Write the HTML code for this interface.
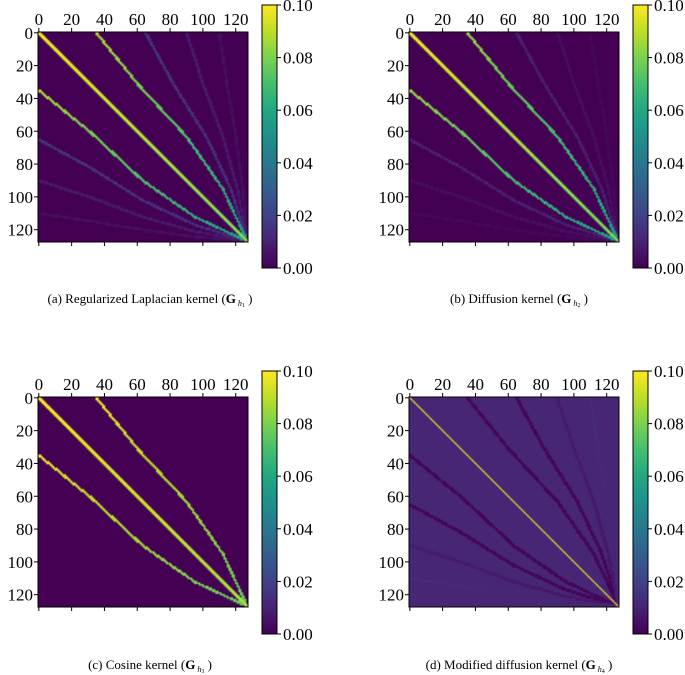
<!DOCTYPE html>
<html><head><meta charset="utf-8">
<style>
html,body{margin:0;padding:0;background:#fff;}
#wrap{position:relative;width:685px;height:675px;overflow:hidden;font-family:"Liberation Serif",serif;}
canvas{position:absolute;}
svg{position:absolute;left:0;top:0;}
</style></head>
<body>
<div id="wrap">
<svg id="ax" width="685" height="675"></svg>
</div>
<script>
// ---- data ----
const N = 128;
const tickValues = [0,20,40,60,80,100,120];
const cbTicks = [0.00,0.02,0.04,0.06,0.08,0.10];
const cbLabels = ["0.00","0.02","0.04","0.06","0.08","0.10"];
const bandOffsets = [0,35,65,90,110];
// normalised band shape: fraction of row range vs fraction of column range
const shapeT = [0,0.25,0.5,0.75,1];
const shapeG = [0,0.28,0.6,0.84,1];
const bandStartA = [0.100,0.088,0.016,0.008,0.004];
const bandEndA   = [0.095,0.055,0.013,0.007,0.004];
const bandStartB = [0.100,0.085,0.010,0.004,0.002];
const bandEndB   = [0.095,0.055,0.009,0.004,0.002];
const bandStartC = [0.100,0.097,0.0,0.0,0.0];
const bandEndC   = [0.095,0.075,0.0,0.0,0.0];
const bandStartD = [0.100,0.001,0.001,0.008,0.013];
const bandEndD   = [0.100,0.001,0.001,0.006,0.010];
// off-diagonal neighbour fraction of the main diagonal (start, end)
const diagNbStart = [0.97,0.95,0.98,0.0];
const diagNbEnd   = [0.7,0.65,0.85,0.0];
const backgroundD = 0.011;
const captions = ["(a) Regularized Laplacian kernel (","(b) Diffusion kernel (","(c) Cosine kernel (","(d) Modified diffusion kernel ("];
const subIdx = ["1","2","3","4"];

// ---- viridis ----
const vir=[[68,1,84],[72,35,116],[64,67,135],[52,94,141],[41,120,142],[32,144,140],[34,167,132],[68,190,112],[121,209,81],[189,222,38],[253,231,37]];
function cmap(v){let t=Math.max(0,Math.min(1,v/0.1))*10;let i=Math.min(9,Math.floor(t)),f=t-i;
 return vir[i].map((c,k)=>Math.round(c+(vir[i+1][k]-c)*f));}
function shape(t){for(let i=0;i<shapeT.length-1;i++){if(t<=shapeT[i+1]){const f=(t-shapeT[i])/(shapeT[i+1]-shapeT[i]);return shapeG[i]+(shapeG[i+1]-shapeG[i])*f;}}return 1;}

function buildMatrix(s,e,bg,isD,nbS,nbE){
 const M=new Float32Array(N*N).fill(bg);
 [1,2,3,4].forEach(k=>{
  const o=bandOffsets[k];
  if(!isD && s[k]===0) return;
  const len=127-o;
  const steps=1200;
  for(let q=0;q<=steps;q++){
   const t=q/steps;
   const w = isD?0.95:0.8;
   const r=t*127, c=o+len*shape(t);
   const val=s[k]+(e[k]-s[k])*t;
   for(let dr=-2;dr<=2;dr++)for(let dc=-2;dc<=2;dc++){
    const ri=Math.round(r)+dr, ci=Math.round(c)+dc;
    if(ri<0||ri>=N||ci<0||ci>=N) continue;
    const d=Math.hypot(ri-r,ci-c);
    if(d>w) continue;
    if(isD){ M[ri*N+ci]=val; M[ci*N+ri]=val; }
    else if(val>M[ri*N+ci]){M[ri*N+ci]=val; M[ci*N+ri]=val;}
   }
  }
 });
 for(let i=0;i<N;i++){
  const t=i/127;
  const val=s[0]+(e[0]-s[0])*t;
  M[i*N+i]=val;
  const nb=val*(nbS+(nbE-nbS)*t);
  if(nb>0 && i+1<N){M[i*N+i+1]=Math.max(M[i*N+i+1],nb);M[(i+1)*N+i]=Math.max(M[(i+1)*N+i],nb);}
 }
 return M;
}

const svg=document.getElementById('ax');
const NS="http://www.w3.org/2000/svg";
function el(tag,attrs,txt){const e=document.createElementNS(NS,tag);for(const k in attrs)e.setAttribute(k,attrs[k]);if(txt!==undefined)e.textContent=txt;svg.appendChild(e);return e;}

const panels=[
 {x:38,y:32,cbx:262,cby:5,s:bandStartA,e:bandEndA,bg:0,d:false,capx:150,capy:303,name:'a'},
 {x:409,y:32,cbx:633,cby:5,s:bandStartB,e:bandEndB,bg:0,d:false,capx:519,capy:303,name:'b'},
 {x:38,y:397,cbx:262,cby:371,s:bandStartC,e:bandEndC,bg:0,d:false,capx:150,capy:669,name:'c'},
 {x:409,y:397,cbx:633,cby:371,s:bandStartD,e:bandEndD,bg:backgroundD,d:true,capx:519,capy:669,name:'d'}
];
const S=210, CBW=15, CBH=263, FS='17';
panels.forEach((p,pi)=>{
 const M=buildMatrix(p.s,p.e,p.bg,p.d,diagNbStart[pi],diagNbEnd[pi]);
 const cv=document.createElement('canvas');cv.width=N;cv.height=N;
 cv.style.left=p.x+'px';cv.style.top=p.y+'px';cv.style.width=S+'px';cv.style.height=S+'px';
 
 
 const ctx=cv.getContext('2d');const im=ctx.createImageData(N,N);
 for(let i=0;i<N*N;i++){const c=cmap(M[i]);im.data[i*4]=c[0];im.data[i*4+1]=c[1];im.data[i*4+2]=c[2];im.data[i*4+3]=255;}
 ctx.putImageData(im,0,0);
 document.getElementById('wrap').insertBefore(cv,svg);
 const cb=document.createElement('canvas');cb.width=1;cb.height=256;
 cb.style.left=p.cbx+'px';cb.style.top=p.cby+'px';cb.style.width=CBW+'px';cb.style.height=CBH+'px';
 
 
 const cc=cb.getContext('2d');
 for(let i=0;i<256;i++){const c=cmap(0.1*(255-i)/255);cc.fillStyle=`rgb(${c})`;cc.fillRect(0,i,1,1);}
 document.getElementById('wrap').insertBefore(cb,svg);
 el('rect',{x:p.cbx,y:p.cby,width:CBW,height:CBH,fill:'none',stroke:'#000','stroke-width':1,});
 const cy=v=>p.cby+CBH-(v/0.1)*CBH;
 cbTicks.forEach((v,i)=>{
  el('line',{x1:p.cbx+CBW,x2:p.cbx+CBW+4,y1:cy(v),y2:cy(v),stroke:'#000',});
  el('text',{x:p.cbx+CBW+6,y:cy(v)+6,'font-size':FS,},cbLabels[i]);
 });
 el('rect',{x:p.x,y:p.y,width:S,height:S,fill:'none',stroke:'#000','stroke-width':1,});
 const pos=v=>(v+0.5)*S/N;
 tickValues.forEach(v=>{
  const xx=p.x+pos(v), yy=p.y+pos(v);
  el('line',{x1:xx,x2:xx,y1:p.y,y2:p.y-4,stroke:'#000',});
  el('line',{x1:xx,x2:xx,y1:p.y+S,y2:p.y+S+4,stroke:'#000',});
  el('text',{x:xx,y:p.y-7,'font-size':FS,'text-anchor':'middle',},String(v));
  el('line',{x1:p.x,x2:p.x-4,y1:yy,y2:yy,stroke:'#000',});
  el('text',{x:p.x-5,y:yy+6,'font-size':FS,'text-anchor':'end',},String(v));
 });
 const t=el('text',{x:p.capx,y:p.capy,'font-size':'13','text-anchor':'middle',});
 const a=document.createElementNS(NS,'tspan');a.textContent=captions[pi];t.appendChild(a);
 const b=document.createElementNS(NS,'tspan');b.setAttribute('font-weight','bold');b.textContent='G';t.appendChild(b);
 const c=document.createElementNS(NS,'tspan');c.setAttribute('font-size','8');c.setAttribute('font-style','italic');c.setAttribute('dy','3');c.textContent=' h';t.appendChild(c);
 const d=document.createElementNS(NS,'tspan');d.setAttribute('font-size','6');d.setAttribute('dy','1');d.textContent=subIdx[pi];t.appendChild(d);
 const f=document.createElementNS(NS,'tspan');f.setAttribute('dy','-4');f.textContent=' )';t.appendChild(f);
});
</script>
</body></html>
